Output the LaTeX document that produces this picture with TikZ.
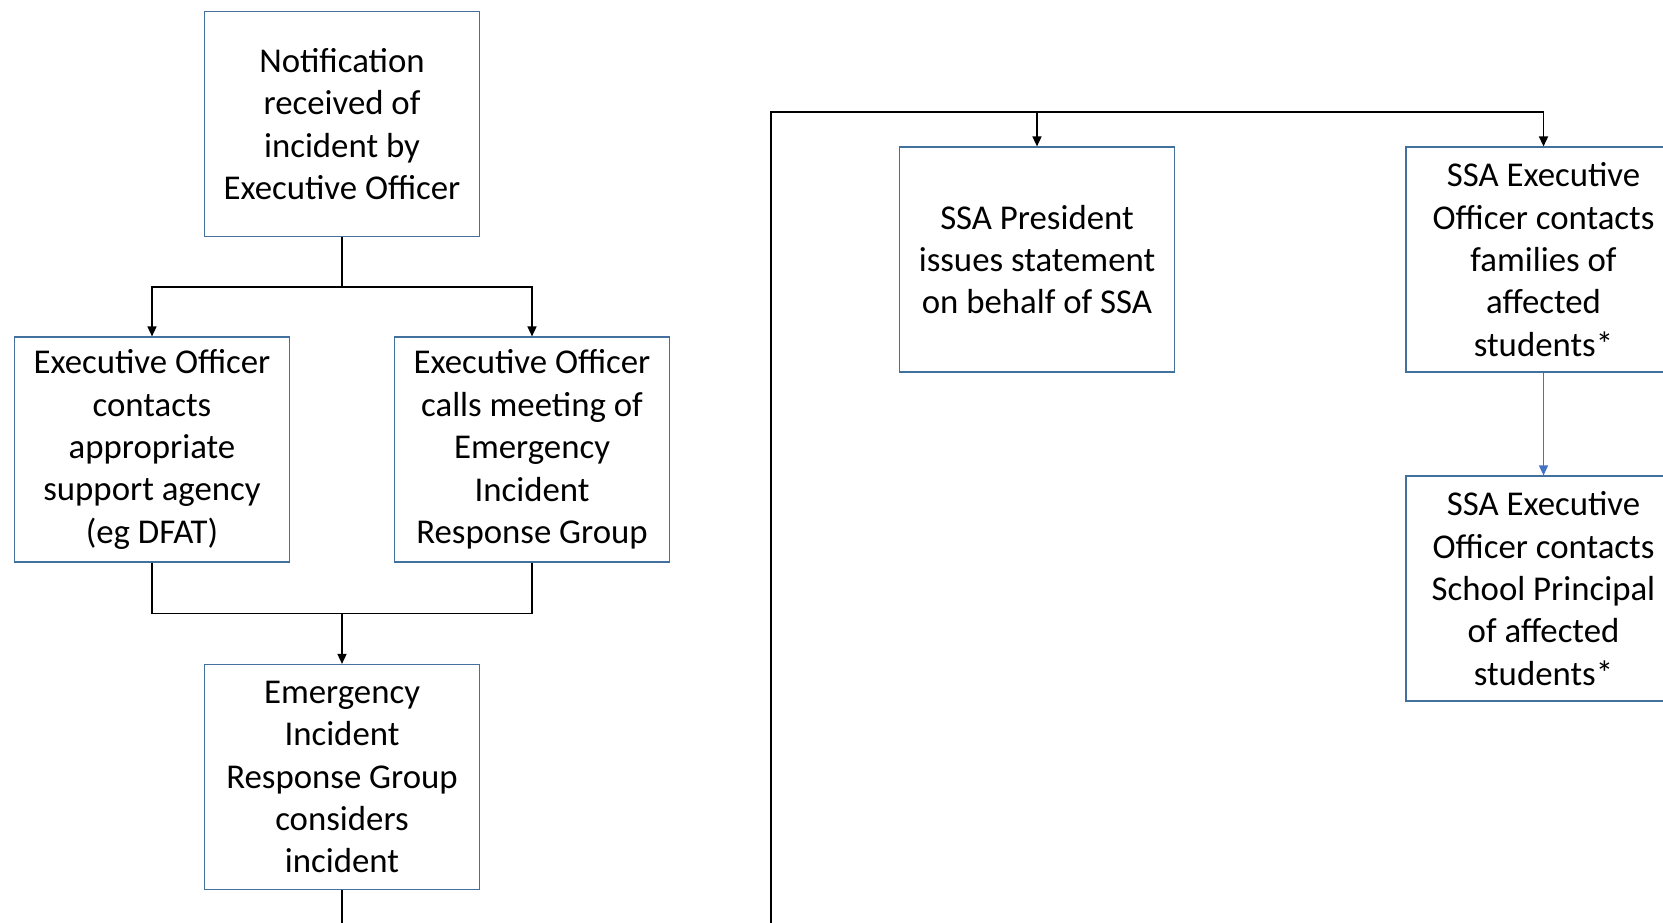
\documentclass[tikz,border=0pt]{standalone}
\usepackage{fontspec}
\setmainfont{Carlito}
\usetikzlibrary{positioning,arrows.meta,calc}
\definecolor{boxline}{RGB}{65,113,156}
\definecolor{flowblue}{RGB}{68,114,196}

\begin{document}
\begin{tikzpicture}[x=0.5pt, y=-0.5pt,
    >={Triangle[length=5pt,width=4.5pt]}, node distance=162.75pt and 95pt, on grid,
    box/.style={draw=boxline, line width=0.6pt, fill=white, rectangle,
      minimum width=137.5pt, minimum height=112.5pt, inner sep=0pt, align=center,
      font=\fontsize{17.4pt}{21.2pt}\selectfont},
    link/.style={line width=0.8pt, black}]
  \useasboundingbox (0,0) rectangle (1663,922);
  \clip (0,0) rectangle (1663,922);
  % left column
  \node[box] (notif) at (342,124) {Notification\\received of\\incident by\\Executive Officer};
  \node[box, below left=of notif] (agency) {Executive Officer\\contacts\\appropriate\\support agency\\(eg DFAT)};
  \node[box, below right=of notif] (meeting) {Executive Officer\\calls meeting of\\Emergency\\Incident\\Response Group};
  \node[box, below=326.5pt of notif] (consider) {Emergency\\Incident\\Response Group\\considers\\incident};
  % right side
  \node[box] (statement) at (1037,259.5) {SSA President\\issues statement\\on behalf of SSA};
  \node[box, right=253.25pt of statement] (families) {SSA Executive\\Officer contacts\\families of\\affected\\students*};
  \node[box, below=164.5pt of families] (principal) {SSA Executive\\Officer contacts\\School Principal\\of affected\\students*};

  \coordinate (fork) at ($(notif.south)+(0,50)$);
  \draw[link,->] (notif.south) -- (fork) -| (agency.north);
  \draw[link,->] (fork) -| (meeting.north);
  \coordinate (merge) at ($(agency.south)+(0,51)$);
  \draw[link] (agency.south) -- (merge) -| (meeting.south);
  \draw[link,->] (consider.north |- merge) -- (consider.north);
  \coordinate (foot) at (0,935);
  \draw[link] (consider.south) -- (consider.south |- foot);

  \coordinate (bus) at (771,112);
  \draw[link] (bus |- foot) -- (bus) -- (families.north |- bus);
  \draw[link,->] (statement.north |- bus) -- (statement.north);
  \draw[link,->] (families.north |- bus) -- (families.north);
  \draw[line width=0.6pt, flowblue, ->] (families) -- (principal);
\end{tikzpicture}
\end{document}
